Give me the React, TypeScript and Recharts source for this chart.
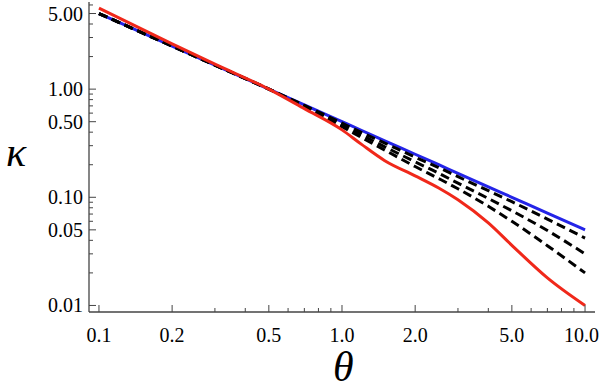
import React from "react";
import { LineChart, Line, XAxis, YAxis } from "recharts";

const theta = [0.1, 0.2, 0.3, 0.5, 0.7, 1, 1.2, 1.5, 2, 2.5, 3, 4, 5, 7, 10];
const kappaBlue = [5, 2.5, 1.667, 1, 0.714, 0.5, 0.4167, 0.333, 0.25, 0.2, 0.1667, 0.125, 0.1, 0.0714, 0.05];
const kappaRed = [5.6, 2.62, 1.7, 1.0, 0.66, 0.42, 0.31, 0.218, 0.158, 0.122, 0.095, 0.058, 0.036, 0.018, 0.01];
const kappaDashA = [5, 2.5, 1.667, 1.0, 0.707, 0.485, 0.399, 0.317, 0.235, 0.188, 0.155, 0.115, 0.091, 0.0629, 0.042];
const kappaDashB = [5, 2.5, 1.667, 1.0, 0.7, 0.465, 0.377, 0.293, 0.2125, 0.167, 0.135, 0.0975, 0.075, 0.0493, 0.03];
const kappaDashC = [5, 2.5, 1.667, 1.0, 0.686, 0.45, 0.358, 0.273, 0.1925, 0.149, 0.12, 0.0825, 0.06, 0.0357, 0.02];

const xMajor = [0.1, 0.2, 0.5, 1, 2, 5, 10];
const xMinor = [0.3, 0.4, 0.6, 0.7, 0.8, 0.9, 3, 4, 6, 7, 8, 9];
const yMajor = [0.01, 0.05, 0.1, 0.5, 1, 5];
const yMinor = [0.02, 0.03, 0.04, 0.06, 0.07, 0.08, 0.09, 0.2, 0.3, 0.4, 0.6, 0.7, 0.8, 0.9, 2, 3, 4, 6];

const xTicks = [...xMajor, ...xMinor].sort((a, b) => a - b);
const yTicks = [...yMajor, ...yMinor].sort((a, b) => a - b);

const data = theta.map((t, i) => ({
  theta: t,
  blue: kappaBlue[i],
  red: kappaRed[i],
  a: kappaDashA[i],
  b: kappaDashB[i],
  c: kappaDashC[i],
}));

const FONT = '"Liberation Serif", "Times New Roman", monospace';
const FRAME = "#444";
const X_DOMAIN = [0.091, 10.99];
const Y_DOMAIN = [0.0087, 6.39];

const BottomTick = (props: any) => {
  const { x, y, payload } = props;
  const v = payload.value;
  const major = xMajor.includes(v);
  const last = v === xMajor[xMajor.length - 1];
  return (
    <g>
      <line x1={x} x2={x} y1={y} y2={y - (major ? 7 : 4)} stroke={FRAME} strokeWidth={1} />
      {major && (
        <text
          x={last ? x + 14 : x}
          y={y + 30}
          textAnchor={last ? "end" : "middle"}
          style={{ fontFamily: FONT, fontSize: 20 }}
          fill="#000"
        >
          {v.toFixed(1)}
        </text>
      )}
    </g>
  );
};

const TopTick = (props: any) => {
  const { x, y, payload } = props;
  const major = xMajor.includes(payload.value);
  return <line x1={x} x2={x} y1={y} y2={y + (major ? 7 : 4)} stroke={FRAME} strokeWidth={1} />;
};

const LeftTick = (props: any) => {
  const { x, y, payload } = props;
  const v = payload.value;
  const major = yMajor.includes(v);
  return (
    <g>
      <line x1={x} x2={x + (major ? 7 : 4)} y1={y} y2={y} stroke={FRAME} strokeWidth={1} />
      {major && (
        <text x={x - 6} y={y + 7} textAnchor="end" style={{ fontFamily: FONT, fontSize: 20 }} fill="#000">
          {v.toFixed(2)}
        </text>
      )}
    </g>
  );
};

const RightTick = (props: any) => {
  const { x, y, payload } = props;
  const major = yMajor.includes(payload.value);
  return <line x1={x} x2={x - (major ? 7 : 4)} y1={y} y2={y} stroke={FRAME} strokeWidth={1} />;
};

export default function App() {
  return (
    <div style={{ position: "absolute", left: 0, top: 0, width: 600, height: 391, background: "#fff" }}>
      <LineChart width={600} height={391} data={data} margin={{ top: 2, right: 5, left: 0, bottom: 0 }}>
        <XAxis
          dataKey="theta"
          type="number"
          scale="log"
          domain={X_DOMAIN}
          allowDataOverflow
          ticks={xTicks}
          interval={0}
          tickSize={0}
          tickMargin={0}
          tick={<BottomTick />}
          height={79}
          axisLine={{ stroke: FRAME, strokeWidth: 1.3 }}
        />
        <XAxis
          xAxisId="top"
          orientation="top"
          dataKey="theta"
          type="number"
          scale="log"
          domain={X_DOMAIN}
          allowDataOverflow
          ticks={xTicks}
          interval={0}
          tickSize={0}
          tickMargin={0}
          tick={<TopTick />}
          height={0}
          axisLine={{ stroke: FRAME, strokeWidth: 1.3 }}
        />
        <YAxis
          type="number"
          scale="log"
          domain={Y_DOMAIN}
          allowDataOverflow
          ticks={yTicks}
          interval={0}
          tickSize={0}
          tickMargin={0}
          tick={<LeftTick />}
          width={89}
          axisLine={{ stroke: FRAME, strokeWidth: 1.3 }}
        />
        <YAxis
          yAxisId="right"
          orientation="right"
          type="number"
          scale="log"
          domain={Y_DOMAIN}
          allowDataOverflow
          ticks={yTicks}
          interval={0}
          tickSize={0}
          tickMargin={0}
          tick={<RightTick />}
          width={0}
          axisLine={{ stroke: FRAME, strokeWidth: 1.3 }}
        />
        <Line dataKey="blue" type="monotone" stroke="#2424e8" strokeWidth={3} dot={false} isAnimationActive={false} />
        <Line dataKey="a" type="monotone" stroke="#000" strokeWidth={3} strokeDasharray="9 5" dot={false} isAnimationActive={false} />
        <Line dataKey="b" type="monotone" stroke="#000" strokeWidth={3} strokeDasharray="9 5" dot={false} isAnimationActive={false} />
        <Line dataKey="c" type="monotone" stroke="#000" strokeWidth={3} strokeDasharray="9 5" dot={false} isAnimationActive={false} />
        <Line dataKey="red" type="monotone" stroke="#f0281a" strokeWidth={3} dot={false} isAnimationActive={false} />
      </LineChart>
      <div
        style={{
          position: "absolute",
          left: 6,
          top: 131,
          fontFamily: FONT,
          fontStyle: "italic",
          fontSize: 42,
          lineHeight: "42px",
        }}
      >
        κ
      </div>
      <div
        style={{
          position: "absolute",
          left: 333,
          top: 348,
          fontFamily: FONT,
          fontStyle: "italic",
          fontSize: 42,
          lineHeight: "38px",
        }}
      >
        θ
      </div>
    </div>
  );
}
